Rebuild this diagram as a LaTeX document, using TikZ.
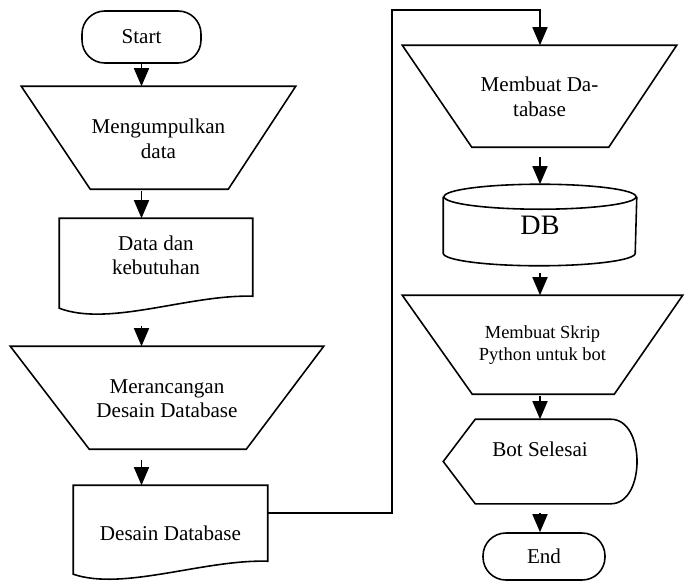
\documentclass[tikz,border=0pt]{standalone}
\usepackage{fontspec}
\setmainfont{Liberation Serif}
\usetikzlibrary{arrows.meta,calc}

\begin{document}
\begin{tikzpicture}[x=0.02cm,y=-0.02cm,line width=0.9pt,
  box/.style={align=center,inner sep=0pt,font=\fontsize{12}{14}\selectfont},
  term/.style={box,draw,rounded corners=13pt},
  arr/.style={-{Triangle[length=0.36cm,width=0.3cm]}}]
\useasboundingbox (0,0) rectangle (688,581);

% left column
\node[term, minimum width=2.38cm, minimum height=1.04cm] (start) at (141.5,37) {Start};
\node[box, minimum width=5.46cm, minimum height=2.06cm] (collect) at (158.5,138.5) {Mengumpulkan\\data};
\draw (collect.north west) -- (collect.north east) -- ++(-67.5,103) -- ++(-138,0) -- cycle;
\node[box, minimum width=3.84cm, minimum height=1.94cm] (needs) at (156,267.5) {Data dan\\kebutuhan\\\mbox{}};
\draw (needs.north west) -- (needs.north east) -- ++(0,78)
  .. controls ($(needs.north west)+(130,76)$) and ($(needs.north west)+(50,109)$) .. ($(needs.north west)+(0,90)$) -- cycle;
\node[box, minimum width=6.24cm, minimum height=2.06cm] (merge) at (167,398.5) {Merancangan\\Desain Database};
\draw (merge.north west) -- (merge.north east) -- ++(-77.5,103) -- ++(-157,0) -- cycle;
\node[box, minimum width=3.86cm, minimum height=1.88cm] (design) at (170.5,533) {Desain Database};
\draw (design.north west) -- (design.north east) -- ++(0,76)
  .. controls ($(design.north west)+(131,74)$) and ($(design.north west)+(50,106)$) .. ($(design.north west)+(0,89)$) -- cycle;

% right column
\node[box, minimum width=5.46cm, minimum height=2.04cm] (makedb) at (539.5,97) {Membuat Da-\\tabase};
\draw (makedb.north west) -- (makedb.north east) -- ++(-68,102) -- ++(-137,0) -- cycle;
\node[box, minimum width=3.84cm, minimum height=1.6cm, font=\fontsize{16}{18}\selectfont] (db) at (540,225) {\raisebox{-0.16cm}{DB}};
\draw ($(db.north)+(0,12.5)$) ellipse[x radius=1.92cm, y radius=0.25cm];
\draw ($(db.north west)+(0,12.5)$) -- ($(db.south west)+(0,-12.5)$)
  arc[start angle=180, end angle=360, x radius=1.92cm, y radius=0.25cm] -- ($(db.north east)+(0,12.5)$);
\node[box, minimum width=5.58cm, minimum height=1.98cm, font=\fontsize{10.5}{12.5}\selectfont] (script) at (542.5,345.5) {Membuat Skrip\\Python untuk bot};
\draw (script.north west) -- (script.north east) -- ++(-68.5,99) -- ++(-142,0) -- cycle;
\node[box, minimum width=3.84cm, minimum height=1.66cm] (done) at (540,461.5) {Bot Selesai\\\mbox{}};
\draw (done.west) -- ($(done.north west)+(32,0)$) -- ($(done.north east)+(-26,0)$)
  .. controls ($(done.north east)+(9,0)$) and ($(done.south east)+(9,0)$) .. ($(done.south east)+(-26,0)$)
  -- ($(done.south west)+(32,0)$) -- cycle;
\node[term, minimum width=2.44cm, minimum height=0.94cm] (end) at (544,556.5) {End};

% arrows
\draw[arr] (start) -- (start |- collect.north);
\draw[arr] (collect.south -| start) -- (needs.north -| start);
\draw[arr, shorten <=0.18cm] (needs.south -| start) -- (merge.north -| start);
\draw[arr, shorten <=0.18cm] (merge.south -| start) -- (design.north -| start);
\coordinate (turn) at (392,10);
\draw[arr] ($(design.north east)+(0,28)$) -| (turn) -| (makedb.north -| db);
\draw[arr, shorten <=0.16cm] (makedb.south -| db) -- (db.north);
\draw[arr, shorten <=0.14cm] (db.south) -- (script.north -| db);
\draw[arr] (script.south -| db) -- (done.north -| db);
\draw[arr, shorten <=0.18cm] (done.south -| db) -- (end.north -| db);
\end{tikzpicture}
\end{document}
